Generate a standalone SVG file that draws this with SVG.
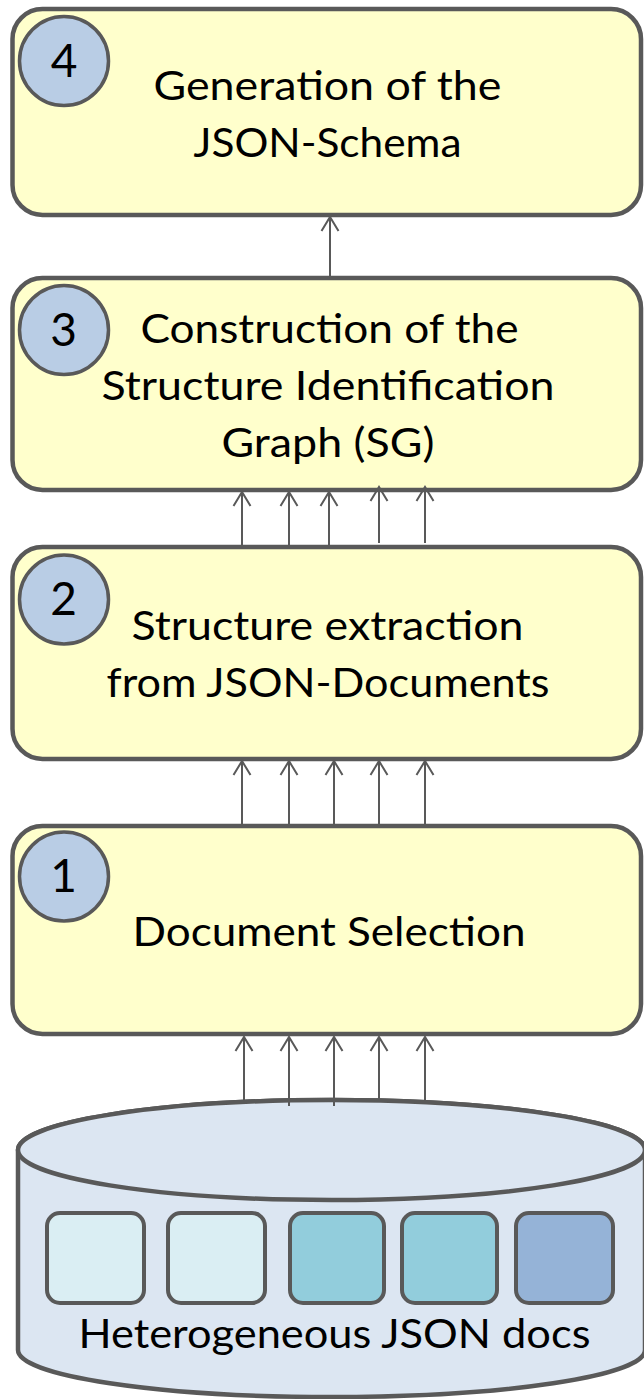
<svg xmlns="http://www.w3.org/2000/svg" width="644" height="1399" viewBox="0 0 644 1399">
<style>
.box{fill:#FFFFCC;stroke:#595959;stroke-width:4.5}
.num{fill:#B9CDE5;stroke:#595959;stroke-width:3.5}
.t{font-family:Lato,"Open Sans","Liberation Sans",sans-serif;font-size:40px;fill:#000;text-anchor:middle}
.d{font-family:Lato,"Open Sans","Liberation Sans",sans-serif;font-size:46px;fill:#000;text-anchor:middle}
.doc{stroke:#595959;stroke-width:4}
.cyl{fill:#DCE6F2;stroke:#595959;stroke-width:4.5}
.c line{stroke:#595959;stroke-width:2;marker-end:url(#ah)}
</style>
<defs>
<marker id="ah" markerUnits="userSpaceOnUse" markerWidth="20" markerHeight="20" refX="0" refY="0" orient="auto" overflow="visible">
<path d="M-14,-8.5 L0,0 L-14,8.5" fill="none" stroke="#595959" stroke-width="2"/>
</marker>
</defs>
<g id="step4">
<rect class="box" x="12.5" y="9" width="628.5" height="206" rx="30"/>
<circle class="num" cx="64" cy="61" r="44.5"/>
<text class="d" x="64" y="77">4</text>
<text class="t" x="327.5" y="100" textLength="348" lengthAdjust="spacingAndGlyphs">Generation of the</text>
<text class="t" x="327.5" y="157" textLength="268" lengthAdjust="spacingAndGlyphs">JSON-Schema</text>
</g>
<g id="step3">
<rect class="box" x="12.5" y="278" width="628.5" height="212" rx="30"/>
<circle class="num" cx="64" cy="330" r="44.5"/>
<text class="d" x="63.5" y="346">3</text>
<text class="t" x="329.5" y="343" textLength="378" lengthAdjust="spacingAndGlyphs">Construction of the</text>
<text class="t" x="328" y="400" textLength="453" lengthAdjust="spacingAndGlyphs">Structure Identification</text>
<text class="t" x="328" y="457" textLength="213" lengthAdjust="spacingAndGlyphs">Graph (SG)</text>
</g>
<g id="step2">
<rect class="box" x="12.5" y="547" width="628.5" height="212" rx="30"/>
<circle class="num" cx="64" cy="599.5" r="44.5"/>
<text class="d" x="63.5" y="615">2</text>
<text class="t" x="327.5" y="640" textLength="392" lengthAdjust="spacingAndGlyphs">Structure extraction</text>
<text class="t" x="328" y="697" textLength="443" lengthAdjust="spacingAndGlyphs">from JSON-Documents</text>
</g>
<g id="step1">
<rect class="box" x="12.5" y="826" width="628.5" height="208" rx="30"/>
<circle class="num" cx="64" cy="876.5" r="44.5"/>
<text class="d" x="63.5" y="892">1</text>
<text class="t" x="329" y="946" textLength="393" lengthAdjust="spacingAndGlyphs">Document Selection</text>
</g>
<g id="store">
<path class="cyl" d="M18,1150 L18,1350 A313.5,47 0 0 0 645,1350 L645,1150 A313.5,50 0 0 0 18,1150 Z"/>
<ellipse class="cyl" cx="331.5" cy="1150" rx="313.5" ry="50"/>
<rect class="doc" x="47" y="1213" width="97" height="90" rx="13" fill="#DAEEF3"/>
<rect class="doc" x="168" y="1213" width="97" height="90" rx="13" fill="#DAEEF3"/>
<rect class="doc" x="290" y="1213" width="94" height="90" rx="13" fill="#92CDDC"/>
<rect class="doc" x="402" y="1213" width="95" height="90" rx="13" fill="#92CDDC"/>
<rect class="doc" x="516" y="1213" width="97" height="90" rx="13" fill="#95B3D7"/>
<text class="t" x="334.5" y="1348" textLength="512" lengthAdjust="spacingAndGlyphs">Heterogeneous JSON docs</text>
</g>
<g id="connectors" class="c">
<line x1="330" y1="278" x2="330" y2="217"/>
<line x1="242" y1="547" x2="242" y2="492"/>
<line x1="289" y1="547" x2="289" y2="492"/>
<line x1="329" y1="547" x2="329" y2="492"/>
<line x1="379" y1="543" x2="379" y2="487"/>
<line x1="425" y1="543" x2="425" y2="487"/>
<line x1="242" y1="826" x2="242" y2="761"/>
<line x1="289" y1="826" x2="289" y2="761"/>
<line x1="334" y1="826" x2="334" y2="761"/>
<line x1="379" y1="826" x2="379" y2="761"/>
<line x1="425" y1="826" x2="425" y2="761"/>
<line x1="244" y1="1100" x2="244" y2="1037"/>
<line x1="289" y1="1106" x2="289" y2="1037"/>
<line x1="334" y1="1106" x2="334" y2="1037"/>
<line x1="379" y1="1100" x2="379" y2="1037"/>
<line x1="425" y1="1100" x2="425" y2="1037"/>
</g>
</svg>
